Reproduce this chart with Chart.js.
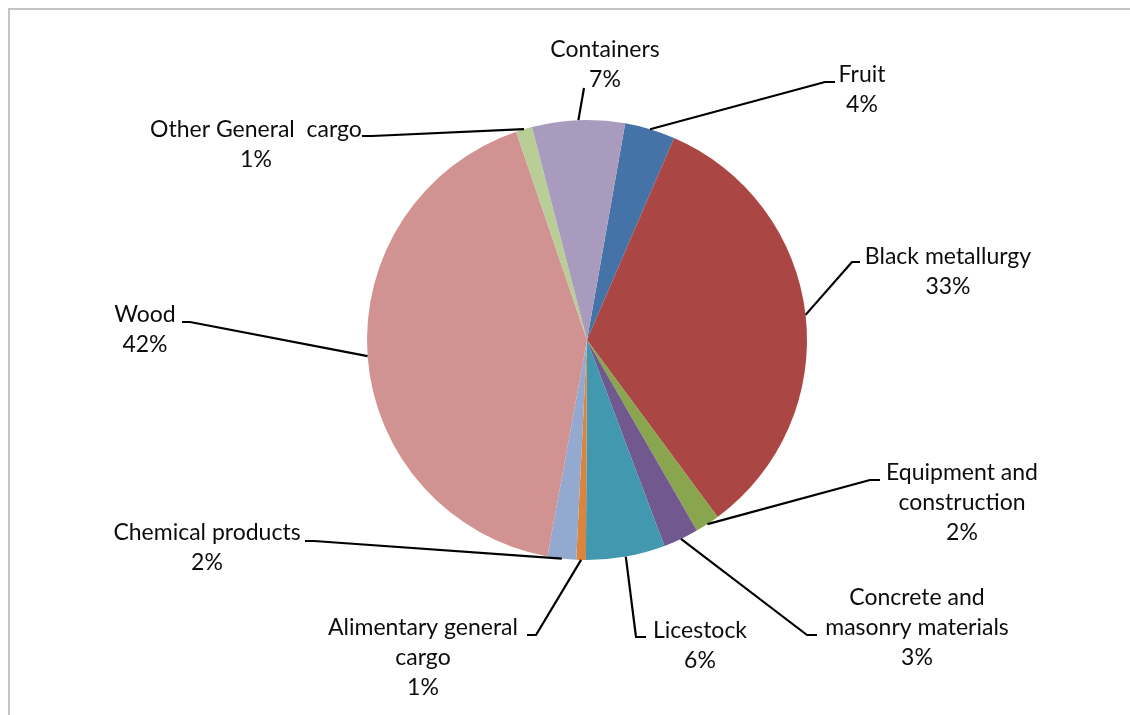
<!DOCTYPE html>
<html lang="en">
<head>
    <meta charset="UTF-8">
    <title>Cargo structure</title>
    <script src="https://cdn.jsdelivr.net/npm/chart.js"></script>
    <style>
        html, body {
            margin: 0;
            padding: 0;
            background: #ffffff;
            overflow: hidden;
        }

        .chart-box {
            position: relative;
            width: 1130px;
            height: 715px;
        }
    </style>
</head>
<body>
    <div class="chart-box">
        <canvas id="cargoChart"></canvas>
    </div>

    <script>
        // data, clockwise from the first slice
        const categories = [
            "Fruit", "Black metallurgy", "Equipment and construction",
            "Concrete and masonry materials", "Licestock", "Alimentary general cargo",
            "Chemical products", "Wood", "Other General cargo", "Containers"
        ];
        const shares = [3.7, 33.4, 1.8, 2.6, 5.8, 0.7, 2.1, 41.9, 1.2, 6.8];
        const colors = [
            "#4572A7", "#AA4643", "#89A54E", "#71588F", "#4198AF",
            "#DB843D", "#93A9CF", "#D19392", "#B9CD96", "#A99BBD"
        ];
        // how each label is broken over lines
        const labelLines = [
            ["Fruit"], ["Black metallurgy"], ["Equipment and", "construction"],
            ["Concrete and", "masonry materials"], ["Licestock"], ["Alimentary general", "cargo"],
            ["Chemical products"], ["Wood"], ["Other General  cargo"], ["Containers"]
        ];

        // label placement (text centre, first line) and leader bend, px from pie centre
        const labelLayout = [
            { tx: 275, ty: -265, bend: [[238, -258], [248, -258]] },
            { tx: 361, ty: -83, bend: [[265, -78], [273, -78]] },
            { tx: 375, ty: 133, bend: [[283, 140], [293, 140]] },
            { tx: 330, ty: 258, bend: [[220, 295], [230, 295]] },
            { tx: 113, ty: 291, bend: [[49, 297], [59, 297]] },
            { tx: -164, ty: 288, bend: [[-51, 295], [-60, 295]] },
            { tx: -380, ty: 193, bend: [[-273, 201], [-282, 201]] },
            { tx: -442, ty: -25, bend: [[-397, -18], [-405, -18]] },
            { tx: -331, ty: -210, bend: [[-215, -204], [-225, -204]] },
            { tx: 18, ty: -290, bend: [[-3, -252]] }
        ];

        const total = shares.reduce((s, v) => s + v, 0);
        const FONT = "23px Lato, 'Open Sans', sans-serif";
        const LINE_H = 30;

        // chart frame (only top/left edges fall inside the picture)
        const framePlugin = {
            id: "frame",
            beforeDraw(chart) {
                const ctx = chart.ctx;
                ctx.save();
                ctx.fillStyle = "#ffffff";
                ctx.fillRect(0, 0, chart.width, chart.height);
                ctx.strokeStyle = "#c4c4c4";
                ctx.lineWidth = 2;
                ctx.strokeRect(9, 9, chart.width + 20, chart.height + 20);
                ctx.restore();
            }
        };

        // leader lines and data labels
        const labelPlugin = {
            id: "leaderLabels",
            afterDatasetsDraw(chart) {
                const ctx = chart.ctx;
                const arcs = chart.getDatasetMeta(0).data;
                ctx.save();
                ctx.font = FONT;
                ctx.fillStyle = "#0d0d0d";
                ctx.textAlign = "center";
                ctx.textBaseline = "middle";
                ctx.strokeStyle = "#000000";
                ctx.lineWidth = 2.2;
                ctx.lineJoin = "round";

                arcs.forEach((arc, i) => {
                    const p = arc.getProps(["x", "y", "startAngle", "endAngle", "outerRadius"], true);
                    const mid = (p.startAngle + p.endAngle) / 2;
                    const ex = p.x + Math.cos(mid) * p.outerRadius;
                    const ey = p.y + Math.sin(mid) * p.outerRadius;
                    const lay = labelLayout[i];

                    ctx.beginPath();
                    ctx.moveTo(ex, ey);
                    lay.bend.forEach(pt => ctx.lineTo(p.x + pt[0], p.y + pt[1]));
                    ctx.stroke();

                    const pct = Math.round(shares[i] / total * 100) + "%";
                    const lines = labelLines[i].concat([pct]);
                    lines.forEach((t, k) => {
                        ctx.fillText(t, p.x + lay.tx, p.y + lay.ty + k * LINE_H);
                    });
                });
                ctx.restore();
            }
        };

        const ctx = document.getElementById("cargoChart").getContext("2d");
        new Chart(ctx, {
            type: "pie",
            data: {
                labels: categories,
                datasets: [{
                    data: shares,
                    backgroundColor: colors,
                    borderWidth: 0
                }]
            },
            options: {
                responsive: true,
                maintainAspectRatio: false,
                animation: false,
                rotation: 10,
                layout: {
                    padding: { top: 120, bottom: 155, left: 367, right: 323 }
                },
                plugins: {
                    legend: { display: false },
                    tooltip: { enabled: false }
                }
            },
            plugins: [framePlugin, labelPlugin]
        });
    </script>
</body>
</html>
